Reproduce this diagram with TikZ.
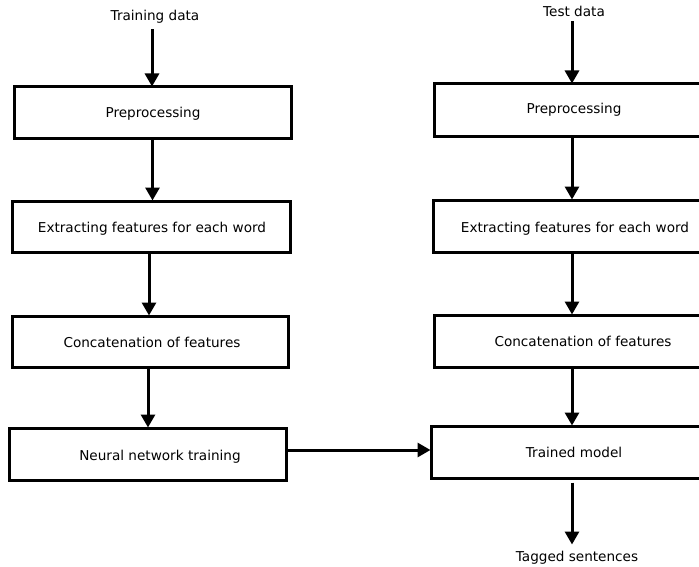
\documentclass[tikz,border=0pt]{standalone}
\usepackage{fontspec}
\setmainfont{DejaVu Sans}
\usetikzlibrary{arrows.meta}
\begin{document}
\begin{tikzpicture}[x=1pt,y=-1pt,
  box/.style={draw=black, line width=3pt, rectangle, inner sep=0pt},
  lbl/.style={font=\fontsize{13.6}{16}\selectfont, inner sep=0pt, anchor=base},
  arr/.style={line width=3pt, -{Triangle[width=14pt,length=13pt]}, shorten >=-1pt}
]
\useasboundingbox (0,0) rectangle (699,567);
\clip (0,0) rectangle (699,567);

% training pipeline (left column)
\node[lbl] (td) at (155,21) {Training data};
\node[box, minimum width=277pt, minimum height=52pt] (l1) at (152.5,113) {};
\node[box, minimum width=278pt, minimum height=51pt] (l2) at (151,226.5) {};
\node[box, minimum width=276pt, minimum height=51pt] (l3) at (150,341.5) {};
\node[box, minimum width=277pt, minimum height=52pt] (l4) at (147.5,454) {};
\node[lbl] (l1t) at (153,118) {Preprocessing};
\node[lbl] (l2t) at (152,232) {Extracting features for each word};
\node[lbl] (l3t) at (152,347) {Concatenation of features};
\node[lbl] (l4t) at (160,460) {Neural network training};

% tagging pipeline (right column)
\node[lbl] (ts) at (574,17) {Test data};
\node[box, minimum width=276pt, minimum height=53pt] (r1) at (572,110.5) {};
\node[box, minimum width=278pt, minimum height=52pt] (r2) at (572,226) {};
\node[box, minimum width=276pt, minimum height=52pt] (r3) at (572,341) {};
\node[box, minimum width=282pt, minimum height=52pt] (r4) at (572,452) {};
\node[lbl] (r1t) at (574,114) {Preprocessing};
\node[lbl] (r2t) at (575,232) {Extracting features for each word};
\node[lbl] (r3t) at (583,346) {Concatenation of features};
\node[lbl] (r4t) at (574,457) {Trained model};
\node[lbl] (tg) at (577,561) {Tagged sentences};

% connectors (yshift is in page direction: negative moves down)
\draw[arr] ([xshift=-3pt,yshift=-5pt]td.south) -- ([xshift=-3pt]td.south |- l1.north);
\draw[arr] (l1.south) -- (l1.south |- l2.north);
\draw[arr] ([xshift=-2pt]l2.south) -- ([xshift=-2pt]l2.south |- l3.north);
\draw[arr] ([xshift=-2pt]l3.south) -- ([xshift=-2pt]l3.south |- l4.north);
\draw[arr] ([xshift=-2pt,yshift=-4pt]ts.south) -- ([xshift=-2pt]ts.south |- r1.north);
\draw[arr] (r1.south) -- (r2.north);
\draw[arr] (r2.south) -- (r3.north);
\draw[arr] (r3.south) -- (r4.north);
\draw[arr] ([yshift=4pt]l4.east) -- ([yshift=4pt]l4.east -| r4.west);
\draw[arr] ([yshift=-3pt]r4.south) -- ([yshift=-64pt]r4.south);
\end{tikzpicture}
\end{document}
